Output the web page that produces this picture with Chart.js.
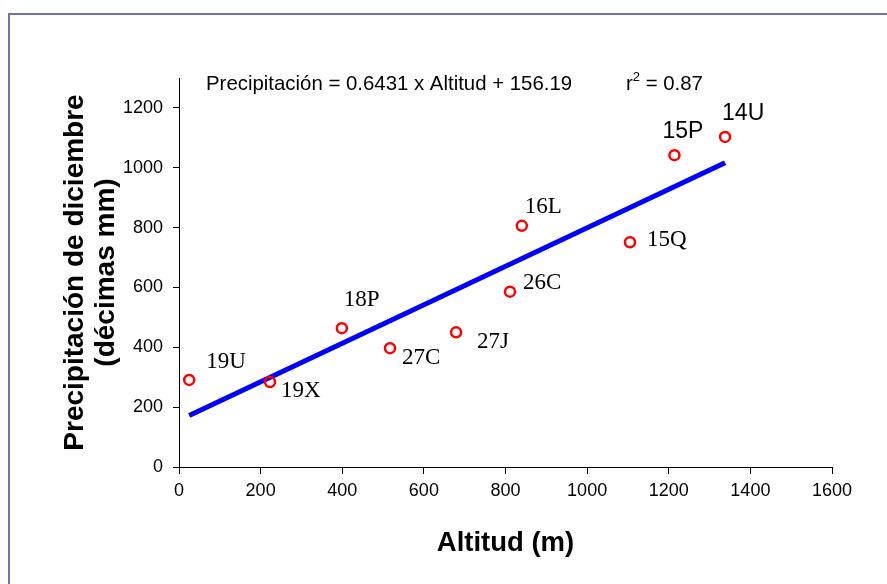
<!DOCTYPE html>
<html>
<head>
<meta charset="utf-8">
<script src="https://cdn.jsdelivr.net/npm/chart.js@4"></script>
<style>
    body { margin: 0; background: #fff; }
    #wrap { position: relative; width: 887px; height: 584px; overflow: hidden; }
    #frame { position: absolute; left: 8px; top: 13px; width: 1000px; height: 1000px;
             border-top: 2px solid #7272aa; border-left: 2px solid #7272aa; }
    canvas { position: absolute; left: 0; top: 0; }
</style>
</head>
<body>
<div id="wrap">
    <div id="frame"></div>
    <canvas id="chart" width="887" height="584"></canvas>
</div>
<script>
// data
const stations = ["19U", "19X", "18P", "27C", "27J", "26C", "16L", "15Q", "15P", "14U"];
const altitud = [25, 223, 399, 517, 679, 811, 840, 1105, 1214, 1338];
const precip = [291, 284, 464, 397, 450, 586, 806, 751, 1042, 1103];
const trendAltitud = [25, 1338];
const trendPrecip = [172, 1017];
const xTickRange = [0, 1600, 200];
const yTickRange = [0, 1200, 200];
const yAxisTop = 1300;
const equationText = "Precipitación = 0.6431 x Altitud + 156.19";
const r2Text = ["r", "2", " = 0.87"];

// label placement (pixels from the point), kept apart from the data
const serif = "23px 'Liberation Serif', 'Times New Roman', serif";
const sans = "23px 'Liberation Sans', Arial, sans-serif";
const labelStyle = [
    {dx: 17, dy: -18, font: serif},
    {dx: 11, dy: 9, font: serif},
    {dx: 2, dy: -28, font: serif},
    {dx: 12, dy: 10, font: serif},
    {dx: 21, dy: 10, font: serif},
    {dx: 13, dy: -9, font: serif},
    {dx: 3, dy: -19, font: serif},
    {dx: 17, dy: -2, font: serif},
    {dx: -12, dy: -24, font: sans},
    {dx: -3, dy: -23, font: sans},
];

const labelPlugin = {
    id: "pointLabels",
    afterDatasetsDraw(chart) {
        const ctx = chart.ctx;
        const xs = chart.scales.x;
        const ys = chart.scales.y;
        const area = chart.chartArea;
        ctx.save();
        ctx.fillStyle = "#000";
        ctx.textBaseline = "middle";
        ctx.textAlign = "left";
        stations.forEach((name, i) => {
            const s = labelStyle[i];
            ctx.font = s.font;
            ctx.fillText(name, xs.getPixelForValue(altitud[i]) + s.dx, ys.getPixelForValue(precip[i]) + s.dy);
        });

        // equation at the top of the plot
        const eqY = area.top + 6;
        const eqFont = "20.4px 'Liberation Sans', Arial, sans-serif";
        ctx.font = eqFont;
        ctx.fillText(equationText, area.left + 27, eqY);
        let rx = area.left + 447;
        ctx.fillText(r2Text[0], rx, eqY);
        rx += ctx.measureText(r2Text[0]).width;
        ctx.font = "13px 'Liberation Sans', Arial, sans-serif";
        ctx.fillText(r2Text[1], rx, eqY - 7);
        rx += ctx.measureText(r2Text[1]).width;
        ctx.font = eqFont;
        ctx.fillText(r2Text[2], rx, eqY);
        ctx.restore();
    }
};

const tickFont = {family: "'Liberation Sans', Arial, sans-serif", size: 18};

new Chart(document.getElementById("chart"), {
    type: "scatter",
    data: {
        datasets: [
            {
                data: altitud.map((a, i) => ({x: a, y: precip[i]})),
                pointStyle: "circle",
                pointRadius: 5,
                pointBorderWidth: 2.5,
                borderColor: "#ff0000",
                backgroundColor: "rgba(0,0,0,0)",
                order: 0
            },
            {
                data: trendAltitud.map((a, i) => ({x: a, y: trendPrecip[i]})),
                showLine: true,
                borderColor: "#0000ff",
                borderWidth: 5,
                pointRadius: 0,
                order: 1
            }
        ]
    },
    options: {
        responsive: false,
        animation: false,
        layout: {padding: {left: 0, top: 78, right: 55, bottom: 0}},
        plugins: {legend: {display: false}, tooltip: {enabled: false}},
        scales: {
            x: {
                type: "linear",
                min: xTickRange[0],
                max: xTickRange[1],
                ticks: {stepSize: xTickRange[2], color: "#000", font: tickFont, padding: 6,
                        callback: (v) => String(v)},
                grid: {drawOnChartArea: false, drawTicks: true, tickLength: 7, color: "#000"},
                border: {color: "#000", width: 1},
                title: {
                    display: true,
                    text: "Altitud (m)",
                    color: "#000",
                    font: {family: "'Liberation Sans', Arial, sans-serif", size: 27.5, weight: "bold", lineHeight: 1.2},
                    padding: {top: 0, bottom: 24}
                },
                afterFit: (scale) => { scale.height = 117; }
            },
            y: {
                type: "linear",
                min: yTickRange[0],
                max: yAxisTop,
                afterBuildTicks: (scale) => {
                    scale.ticks = scale.ticks.filter(t => t.value <= yTickRange[1]);
                },
                ticks: {stepSize: yTickRange[2], color: "#000", font: tickFont, padding: 10,
                        callback: (v) => String(v)},
                grid: {drawOnChartArea: false, drawTicks: true, tickLength: 6, color: "#000"},
                border: {color: "#000", width: 1},
                title: {
                    display: true,
                    text: ["Precipitación de diciembre", "(décimas mm)"],
                    color: "#000",
                    font: {family: "'Liberation Sans', Arial, sans-serif", size: 28, weight: "bold", lineHeight: 1.1},
                    padding: {top: 60, bottom: 0}
                },
                afterFit: (scale) => { scale.width = 179; }
            }
        }
    },
    plugins: [labelPlugin]
});
</script>
</body>
</html>
